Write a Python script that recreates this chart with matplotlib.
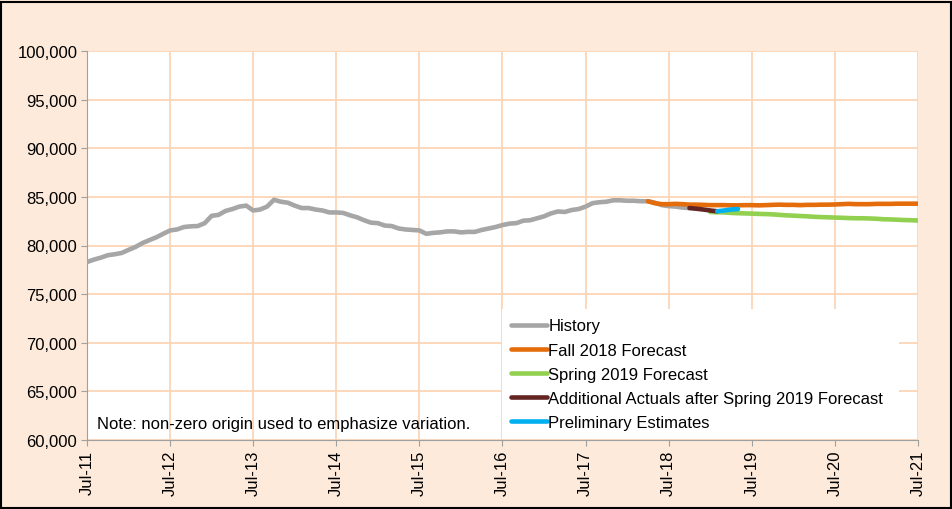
import matplotlib
matplotlib.use("Agg")
import matplotlib.pyplot as plt
from matplotlib.patches import Rectangle

plt.rcParams['font.family'] = ['Liberation Sans', 'DejaVu Sans']

# Month index 0 = Jul-11
tick_labels = ["Jul-11", "Jul-12", "Jul-13", "Jul-14", "Jul-15", "Jul-16",
               "Jul-17", "Jul-18", "Jul-19", "Jul-20", "Jul-21"]

history_start = 0
history = [78300, 78550, 78750, 79000, 79100, 79230, 79550, 79850, 80250, 80550,
           80840, 81200, 81550, 81650, 81900, 81970, 82000, 82300, 83050, 83150,
           83550, 83750, 84000, 84100, 83600, 83700, 84000, 84700, 84500, 84400,
           84100, 83850, 83850, 83700, 83600, 83400, 83400, 83350, 83100, 82900,
           82600, 82350, 82300, 82050, 82000, 81750, 81650, 81600, 81550, 81200,
           81300, 81350, 81450, 81450, 81350, 81400, 81400, 81600, 81750, 81900,
           82100, 82250, 82300, 82550, 82600, 82800, 83000, 83300, 83500, 83450,
           83650, 83750, 84000, 84350, 84450, 84500, 84650, 84650, 84600, 84600,
           84550, 84550, 84400, 84150, 84050, 84000, 83900, 83850]

fall2018_start = 81
fall2018 = [84550, 84350, 84250, 84250, 84280, 84250, 84200, 84200, 84180, 84150,
            84150, 84150, 84130, 84130, 84150, 84150, 84130, 84150, 84180, 84200,
            84180, 84180, 84150, 84180, 84180, 84200, 84200, 84220, 84250, 84280,
            84250, 84250, 84250, 84280, 84280, 84280, 84300, 84300, 84300, 84300]

spring2019_start = 90
spring2019 = [83450, 83420, 83400, 83350, 83320, 83300, 83280, 83250, 83230, 83200,
              83150, 83100, 83070, 83030, 83000, 82950, 82920, 82900, 82870, 82850,
              82820, 82800, 82800, 82780, 82750, 82700, 82680, 82650, 82620, 82600,
              82570]

additional_start = 87
additional = [83850, 83780, 83700, 83600, 83520]

prelim_start = 91
prelim = [83520, 83600, 83700, 83750]

series = [
    ("History", history_start, history, "#A6A6A6"),
    ("Fall 2018 Forecast", fall2018_start, fall2018, "#E46C0A"),
    ("Spring 2019 Forecast", spring2019_start, spring2019, "#92D050"),
    ("Additional Actuals after Spring 2019 Forecast", additional_start, additional, "#632523"),
    ("Preliminary Estimates", prelim_start, prelim, "#00B0F0"),
]

bg = "#FDEADA"
grid_c = "#FCD5B5"

fig = plt.figure(figsize=(9.53, 5.10), dpi=100, facecolor=bg)
ax = fig.add_axes([87/953, 1-441/510, (918-87)/953, (441-52)/510])
ax.set_facecolor("white")

for name, start, vals, col in series:
    xs = list(range(start, start + len(vals)))
    ax.plot(xs, vals, color=col, lw=3.3, label=name, solid_capstyle='round', zorder=3)

ax.set_xlim(0, 120)
ax.set_ylim(60000, 100000)
ax.set_xticks(range(0, 121, 12))
ax.set_xticklabels(tick_labels, rotation=90, fontsize=12)
ax.set_yticks(range(60000, 100001, 5000))
ax.set_yticklabels([f"{v:,}" for v in range(60000, 100001, 5000)], fontsize=12)
ax.grid(True, color=grid_c, lw=1.3, zorder=0)
ax.set_axisbelow(True)
for s in ["top", "right"]:
    ax.spines[s].set_visible(False)
for s in ["left", "bottom"]:
    ax.spines[s].set_color("#A0A0A0")
ax.tick_params(axis="both", colors="#A0A0A0", length=4, labelcolor="black", pad=3)

ax.text(97/953, 1-424/510, "Note: non-zero origin used to emphasize variation.",
        transform=fig.transFigure, fontsize=12, va="center", ha="left")

leg = ax.legend(loc="upper left", bbox_to_anchor=((494-87)/831, (441-302)/389, (907-494)/831, 0.0),
                mode="expand", frameon=True, fontsize=12, handlelength=2.1, handletextpad=0.12,
                labelspacing=0.55, borderpad=0.55, fancybox=False)
leg.get_frame().set_edgecolor("none")
leg.get_frame().set_facecolor("white")
leg.get_frame().set_alpha(1)
leg.set_zorder(5)

fig.patches.append(Rectangle((0.001, 0.001), 0.997, 0.994, transform=fig.transFigure,
                             fill=False, edgecolor="black", lw=1.5))

fig.savefig("out.png", dpi=100, facecolor=bg)
